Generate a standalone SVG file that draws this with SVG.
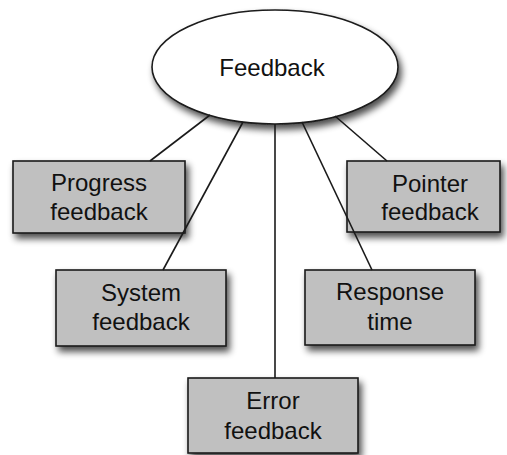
<svg xmlns="http://www.w3.org/2000/svg" width="507" height="455" viewBox="0 0 507 455">
  <style>
    .box { fill: #c0c0c0; stroke: #1a1a1a; stroke-width: 1.6; }
    .oval { fill: #ffffff; stroke: #1a1a1a; stroke-width: 1.6; }
    .lbl { font-family: "Liberation Sans", Arial, Helvetica, sans-serif; font-size: 24px; fill: #111111; text-anchor: middle; }
    .wire { stroke: #1a1a1a; stroke-width: 1.6; fill: none; }
  </style>
  <defs>
    <filter id="shadow" x="-20%" y="-20%" width="150%" height="160%">
      <feGaussianBlur in="SourceAlpha" stdDeviation="3.5"/>
      <feOffset dx="3" dy="5" result="blur"/>
      <feComponentTransfer><feFuncA type="linear" slope="0.7"/></feComponentTransfer>
      <feMerge><feMergeNode/><feMergeNode in="SourceGraphic"/></feMerge>
    </filter>
  </defs>
  <rect width="507" height="455" fill="#ffffff"/>

  <g id="feedback">
    <ellipse class="oval" cx="275" cy="67" rx="123" ry="57" filter="url(#shadow)"/>
    <text class="lbl" x="272" y="76">Feedback</text>
  </g>

  <g id="progress-feedback">
    <rect class="box" x="13" y="161" width="172" height="72" filter="url(#shadow)"/>
    <text class="lbl" x="99" y="191">Progress</text>
    <text class="lbl" x="99" y="220">feedback</text>
  </g>

  <g id="system-feedback">
    <rect class="box" x="56" y="270" width="170" height="76" filter="url(#shadow)"/>
    <text class="lbl" x="141" y="301">System</text>
    <text class="lbl" x="141" y="330">feedback</text>
  </g>

  <g id="error-feedback">
    <rect class="box" x="188" y="378" width="170" height="75" filter="url(#shadow)"/>
    <text class="lbl" x="273" y="409">Error</text>
    <text class="lbl" x="273" y="439">feedback</text>
  </g>

  <g id="response-time">
    <rect class="box" x="305" y="270" width="170" height="75" filter="url(#shadow)"/>
    <text class="lbl" x="390" y="300">Response</text>
    <text class="lbl" x="390" y="330">time</text>
  </g>

  <g id="pointer-feedback">
    <rect class="box" x="347" y="161" width="153" height="71" filter="url(#shadow)"/>
    <text class="lbl" x="430" y="192">Pointer</text>
    <text class="lbl" x="430" y="220">feedback</text>
  </g>

  <g id="connectors">
    <line class="wire" x1="210" y1="115" x2="150" y2="161"/>
    <line class="wire" x1="243" y1="122" x2="163" y2="270"/>
    <line class="wire" x1="275" y1="124" x2="275" y2="378"/>
    <line class="wire" x1="302" y1="122" x2="372" y2="270"/>
    <line class="wire" x1="335" y1="116" x2="387" y2="161"/>
  </g>
</svg>
